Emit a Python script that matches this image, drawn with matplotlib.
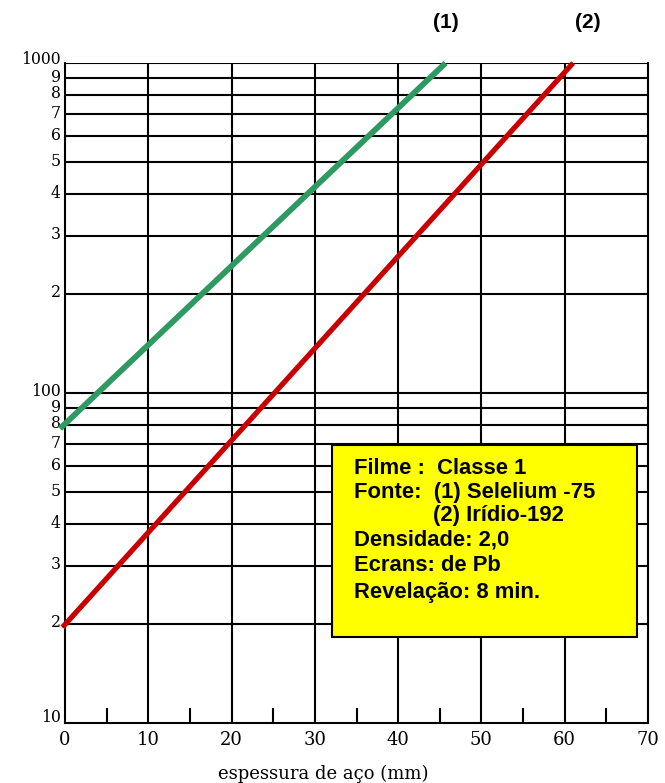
import numpy as np
import matplotlib
matplotlib.use("Agg")
import matplotlib.pyplot as plt
from matplotlib.patches import Rectangle
from matplotlib.transforms import ScaledTranslation

# exposure curves (end points read as straight lines on the log scale)
sel_x = [-0.6, 45.7]
sel_y = [78, 1000]
ir_x = [-0.3, 61.0]
ir_y = [19.5, 1000]

x_major = [0, 10, 20, 30, 40, 50, 60, 70]
x_minor = [5, 15, 25, 35, 45, 55, 65]
y_grid = [20, 30, 40, 50, 60, 70, 80, 90, 100,
          200, 300, 400, 500, 600, 700, 800, 900, 1000]
y_labels = ["2", "3", "4", "5", "6", "7", "8", "9", "100",
            "2", "3", "4", "5", "6", "7", "8", "9", "1000"]

info_lines = ["Filme :  Classe 1",
              "Fonte:  (1) Selelium -75",
              "(2) Irídio-192",
              "Densidade: 2,0",
              "Ecrans: de Pb",
              "Revelação: 8 min."]
info_x = [0.496, 0.496, 0.631, 0.496, 0.496, 0.496]
info_y = [0.386, 0.350, 0.314, 0.277, 0.238, 0.197]

SERIF = ["DejaVu Serif"]
SANS = ["Liberation Sans", "DejaVu Sans"]


def main():
    fig = plt.figure(figsize=(6.65, 7.83), dpi=100)
    ax = fig.add_axes([65 / 665, 60 / 783, 583 / 665, 660 / 783])

    ax.set_yscale("log")
    ax.set_xlim(0, 70)
    ax.set_ylim(10, 1000)

    # grid drawn by hand so it sits under the curves
    for y in y_grid:
        ax.axhline(y, color="black", lw=1.5, zorder=1)
    for x in x_major[1:-1]:
        ax.axvline(x, color="black", lw=1.5, zorder=1)
    for x in x_minor:
        ax.plot([x, x], [10, 10 ** 1.045], color="black", lw=1.5,
                zorder=1, solid_capstyle="butt")

    for s in ax.spines.values():
        s.set_linewidth(1.5)
    ax.spines["top"].set_visible(False)

    ax.plot(sel_x, sel_y, color="#2e9a62", lw=4.2, zorder=3,
            solid_capstyle="butt", clip_on=False)
    ax.plot(ir_x, ir_y, color="#cc0000", lw=3.8, zorder=3,
            solid_capstyle="butt", clip_on=False)
    ax.plot(ir_x, ir_y, color="#a00000", lw=1.2, zorder=3,
            dashes=(1, 3), clip_on=False)

    ax.set_xticks(x_major)
    ax.set_xticklabels([str(v) for v in x_major], family=SERIF, fontsize=13)
    ax.xaxis.set_minor_locator(matplotlib.ticker.NullLocator())
    ax.tick_params(axis="x", length=0, pad=6)

    ax.set_yticks([10] + y_grid)
    ax.set_yticklabels(["10"] + y_labels, family=SERIF, fontsize=11.3)
    ax.yaxis.set_minor_locator(matplotlib.ticker.NullLocator())
    ax.tick_params(axis="y", length=0, pad=3)
    # labels sit a little above their grid lines
    raise_px = {"10": 8, "100": 4, "1000": 5}
    for lab in ax.get_yticklabels():
        up = raise_px.get(lab.get_text(), 3)
        shift = ScaledTranslation(0, up / 100, fig.dpi_scale_trans)
        lab.set_transform(lab.get_transform() + shift)

    ax.set_xlabel("espessura de aço (mm)", family=SERIF, fontsize=13,
                  labelpad=11)
    ax.xaxis.set_label_coords(0.443, -0.064)

    ax.text(45.7, 1330, "(1)", ha="center", va="center",
            family=SANS, fontweight="bold", fontsize=15)
    ax.text(62.8, 1330, "(2)", ha="center", va="center",
            family=SANS, fontweight="bold", fontsize=15)

    box = Rectangle((0.458, 0.130), 0.523, 0.291, transform=ax.transAxes,
                    facecolor="#ffff00", edgecolor="black", lw=1.5, zorder=4)
    ax.add_patch(box)
    for txt, xx, yy in zip(info_lines, info_x, info_y):
        ax.text(xx, yy, txt, transform=ax.transAxes, ha="left",
                va="center", family=SANS, fontweight="bold",
                fontsize=15.8, zorder=5)

    fig.savefig("out.png", dpi=100)


if __name__ == '__main__':
    main()
